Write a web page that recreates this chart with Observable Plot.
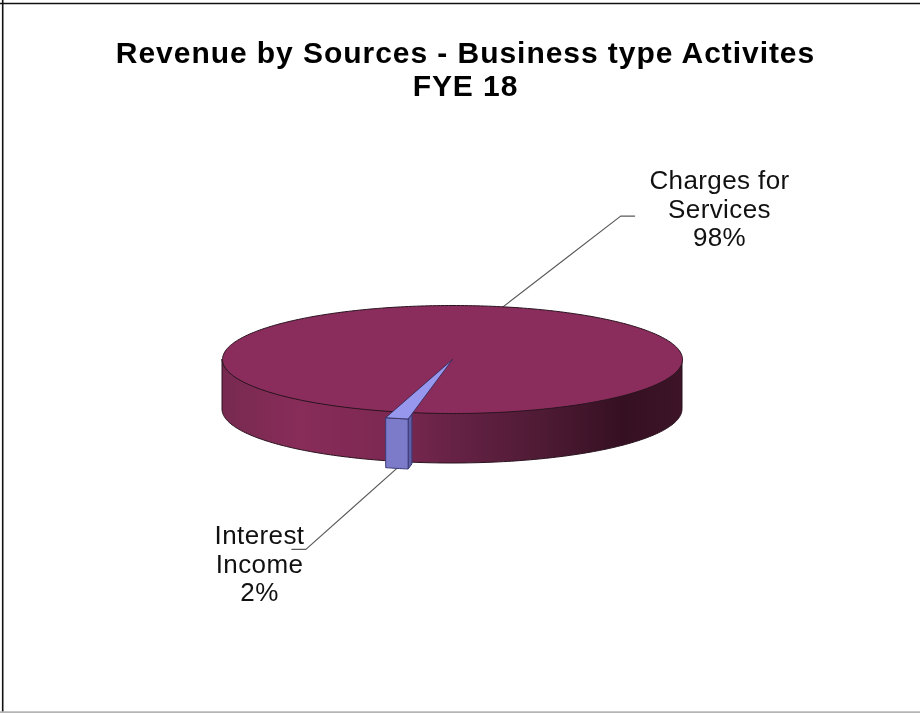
<!DOCTYPE html>
<html>
<head>
<meta charset="utf-8">
<script src="https://cdn.jsdelivr.net/npm/d3@7"></script>
<script src="https://cdn.jsdelivr.net/npm/@observablehq/plot@0.6"></script>
<style>
html,body{margin:0;padding:0;background:#fff}
svg{display:block;filter:blur(0.35px)}
.chart-title text{letter-spacing:0.95px}
.slice-label text{letter-spacing:0.4px}
</style>
</head>
<body>
<div id="chart"></div>
<script>
// Data
const categories = ["Charges for Services", "Interest Income"];
const labelLines = [["Charges for", "Services"], ["Interest", "Income"]];
const shares = [98, 2];
const titleLines = ["Revenue by Sources - Business type Activites", "FYE 18"];
const sliceColors = ["#8b2d5c", "#9797ee"];
const frontFaceColor = "#7b7bc9";
const wallColor = "#5f5fa6";

// Side shading of the disc, left to right
const shadeOffsets = [0, 0.17, 0.38, 0.5, 0.7, 0.87, 1];
const shadeColors = ["#772a50", "#882c59", "#7b2851", "#662245", "#4e1a34", "#351022", "#3d1428"];

// Layout of the tilted disc
const W = 920, H = 713;
const cx = 452, cy = 359, rx = 230, ry = 54, depth = 50;
const pullDown = 6.5, faceNarrowing = 0.8, wallReach = 0.085;
const startDeg = 197.6;
const leaderNudge = [-5.5, 0];
const leaderElbow = [[118, -91], [-91, 81]];
const leaderTail = [14, -14];
const labelPos = [[719, 208], [259, 563]];

const rad = d => d * Math.PI / 180;
const pt = (deg, lift = 0) => ({x: cx + rx * Math.sin(rad(deg)), y: cy - ry * Math.cos(rad(deg)) + lift});

const pie = d3.pie().sort(null)
  .startAngle(rad(startDeg)).endAngle(rad(startDeg + 360))(shares)
  .map(d => ({start: d.startAngle * 180 / Math.PI, end: d.endAngle * 180 / Math.PI}));
const mids = pie.map(d => (d.start + d.end) / 2);

// Disc rim and its visible front band
const rim = d3.range(0, 361, 1).map(a => pt(a));
const band = d3.range(90, 271, 1).map(a => {
  const p = pt(a);
  return {x: p.x, y1: p.y, y2: p.y + depth};
});

// Pulled-out small slice
const s = pie[1], mid = mids[1], half = (s.end - s.start) / 2 * faceNarrowing;
const face = d3.range(mid - half, mid + half + 0.01, half / 4).map(a => pt(a, pullDown));
const cornerR = face[0];
const apex = {x: cx, y: cy};
const wedge = [apex, ...face, apex];
const wallTop = {x: cornerR.x + (apex.x - cornerR.x) * wallReach, y: cornerR.y + (apex.y - cornerR.y) * wallReach};
const faceBox = [...face, ...face.slice().reverse().map(p => ({x: p.x, y: p.y + depth})), face[0]];
const wall = [cornerR, wallTop, {x: wallTop.x, y: wallTop.y + depth}, {x: cornerR.x, y: cornerR.y + depth}, cornerR];

// Leader lines start on the pie edge at each slice's middle
const leaderStarts = [pt(mids[0]), {x: pt(mids[1]).x, y: pt(mids[1], pullDown + depth).y}];
const leaders = leaderStarts.map((p0, i) => {
  const p = {x: p0.x + leaderNudge[i], y: p0.y};
  const e = {x: p.x + leaderElbow[i][0], y: p.y + leaderElbow[i][1]};
  return [p, e, {x: e.x + leaderTail[i], y: e.y}];
});

const labels = categories.map((c, i) => ({
  text: [...labelLines[i], shares[i] + "%"].join("\n"),
  x: labelPos[i][0], y: labelPos[i][1]
}));

const defs = () => {
  const d = d3.create("svg:defs");
  const g = d.append("linearGradient").attr("id", "sideShade")
    .attr("x1", 0).attr("x2", 1).attr("y1", 0).attr("y2", 0);
  shadeOffsets.forEach((o, i) => g.append("stop").attr("offset", o).attr("stop-color", shadeColors[i]));
  return d.node();
};

const font = "'Liberation Sans', Arial, sans-serif";
const outline = "#2a141f";

const plot = Plot.plot({
  width: W, height: H,
  margin: 0,
  style: {background: "#fff", fontFamily: font},
  x: {domain: [0, W], range: [0, W], axis: null},
  y: {domain: [0, H], range: [0, H], axis: null},
  marks: [
    defs,
    // page frame
    Plot.ruleY([3], {stroke: "#111", strokeWidth: 1.6}),
    Plot.ruleX([2.2], {stroke: "#111", strokeWidth: 1.6}),
    Plot.ruleY([711.8], {stroke: "#b5b5b5", strokeWidth: 2}),
    // leaders
    ...leaders.map(l => Plot.line(l, {x: "x", y: "y", stroke: "#5a5a5a", strokeWidth: 1.2})),
    // disc side
    Plot.areaY(band, {x: "x", y1: "y1", y2: "y2", fill: "url(#sideShade)", stroke: outline, strokeWidth: 1}),
    // disc top
    Plot.line(rim, {x: "x", y: "y", fill: sliceColors[0], stroke: outline, strokeWidth: 1}),
    // small slice
    Plot.line(wall, {x: "x", y: "y", fill: wallColor, stroke: "#3a3a7a", strokeWidth: 1}),
    Plot.line(faceBox, {x: "x", y: "y", fill: frontFaceColor, stroke: "#3a3a7a", strokeWidth: 1}),
    Plot.line(wedge, {x: "x", y: "y", fill: sliceColors[1], stroke: "#2b2450", strokeWidth: 0.8}),
    // labels
    Plot.text(labels, {x: "x", y: "y", text: "text", fontSize: 26, lineHeight: 1.09, fill: "#111", textAnchor: "middle", fontFamily: font, className: "slice-label"}),
    Plot.text([titleLines.join("\n")], {x: () => 465, y: () => 68.5, text: d => d, fontSize: 30, lineHeight: 1.1, fontWeight: "bold", fill: "#000", textAnchor: "middle", fontFamily: font, className: "chart-title"})
  ]
});
document.getElementById("chart").append(plot);
</script>
</body>
</html>
